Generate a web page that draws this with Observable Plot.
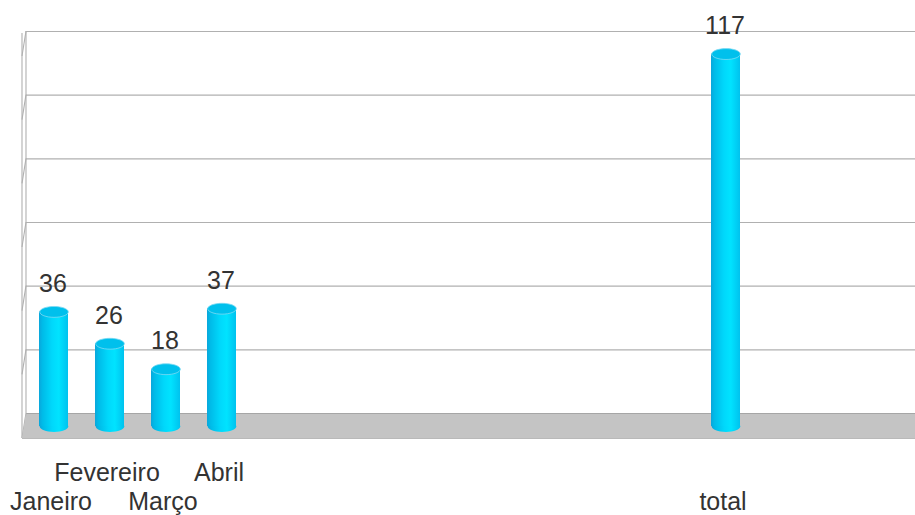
<!DOCTYPE html>
<html>
<head>
<meta charset="utf-8">
<script src="https://cdn.jsdelivr.net/npm/d3@7"></script>
<script src="https://cdn.jsdelivr.net/npm/@observablehq/plot@0.6"></script>
<style>
  html, body { margin: 0; padding: 0; background: #fff; }
  #chart svg { display: block; }
</style>
</head>
<body>
<div id="chart"></div>
<script>
// ---- data ----
const categories = ["Janeiro", "Fevereiro", "Março", "Abril", "", "", "", "", "", "", "", "", "total"];
const values = [36, 26, 18, 37, null, null, null, null, null, null, null, null, 117];
const gridValues = [20, 40, 60, 80, 100, 120];

const table = categories.map((c, i) => ({i, category: c, value: values[i]}));
const bars = table.filter(d => d.value != null);
const labelsTop = table.filter(d => d.i % 2 === 1 && d.category);
const labelsBottom = table.filter(d => d.i % 2 === 0 && d.category);

// depth offsets of the pseudo-3D box (back wall relative to bar plane)
const BACK_DY = -13, FRONT_DY = 12, DEPTH_DX = -4;

const ellipse = {
  draw(ctx, size) {
    const rx = Math.sqrt(size / Math.PI), ry = rx * 0.38, k = 0.5523;
    ctx.moveTo(rx, 0);
    ctx.bezierCurveTo(rx, ry * k, rx * k, ry, 0, ry);
    ctx.bezierCurveTo(-rx * k, ry, -rx, ry * k, -rx, 0);
    ctx.bezierCurveTo(-rx, -ry * k, -rx * k, -ry, 0, -ry);
    ctx.bezierCurveTo(rx * k, -ry, rx, -ry * k, rx, 0);
    ctx.closePath();
  }
};

const font = "'Liberation Sans', Arial, sans-serif";
const R = 14.3;
const FS = 25;

const plot = Plot.plot({
  width: 915,
  height: 515,
  marginLeft: 26,
  marginRight: -4,
  marginTop: 0,
  marginBottom: 0,
  style: {fontFamily: font, background: "#fff", overflow: "hidden"},
  x: {type: "band", domain: d3.range(categories.length), range: [10.65, 768.4], padding: 0.49, axis: null},
  y: {domain: [0, 120], range: [426, 44], axis: null},
  marks: [
    // floor
    Plot.ruleY([0], {stroke: "#c4c4c4", strokeWidth: 25, dy: -0.5}),
    Plot.ruleY([0], {stroke: "#a6a6a6", strokeWidth: 1.2, dy: BACK_DY}),
    Plot.ruleY([0], {stroke: "#b9b9b9", strokeWidth: 1.2, dy: FRONT_DY, dx: DEPTH_DX}),
    // back wall gridlines
    Plot.ruleY(gridValues, {stroke: "#b0b0b0", strokeWidth: 1.2, dy: BACK_DY}),
    // cylinders
    Plot.dot(bars, {x: "i", y: 0, r: R, symbol: ellipse, fill: "url(#cylGrad)", stroke: "none"}),
    Plot.barY(bars, {x: "i", y: "value", fill: "url(#cylGrad)"}),
    Plot.dot(bars, {x: "i", y: "value", r: R, symbol: ellipse, fill: "#00c0ec", stroke: "#7fd9f2", strokeWidth: 0.8}),
    // value labels
    Plot.text(bars, {x: "i", y: "value", text: d => String(d.value), dy: -28, dx: -1, fontSize: FS, fill: "#333"}),
    // category labels (two staggered rows)
    Plot.text(labelsTop, {x: "i", text: "category", frameAnchor: "bottom", lineAnchor: "middle", dy: -43, dx: -3, fontSize: FS, fill: "#333"}),
    Plot.text(labelsBottom, {x: "i", text: "category", frameAnchor: "bottom", lineAnchor: "middle", dy: -14, dx: -3, fontSize: FS, fill: "#333"})
  ]
});

// gradient for cylinders
const svg = d3.select(plot);
const defs = svg.insert("defs", ":first-child");
const g = defs.append("linearGradient").attr("id", "cylGrad").attr("x1", "0").attr("x2", "1").attr("y1", "0").attr("y2", "0");
[[0, "#0aa6db"], [0.12, "#00bbe8"], [0.45, "#00d8fb"], [0.68, "#00e3ff"], [1, "#00c2ee"]]
  .forEach(([o, c]) => g.append("stop").attr("offset", o).attr("stop-color", c));

// left side wall, placed with the plot's own y scale
const y = plot.scale("y");
const backX = 26, frontX = backX + DEPTH_DX;
const wall = svg.append("g").attr("stroke", "#b0b0b0").attr("stroke-width", 1.1).attr("fill", "none");
const topV = d3.max(gridValues);
wall.append("line").attr("x1", backX).attr("x2", backX)
  .attr("y1", y.apply(topV) + BACK_DY).attr("y2", y.apply(0) + BACK_DY);
wall.append("line").attr("x1", frontX).attr("x2", frontX)
  .attr("y1", y.apply(topV) + BACK_DY + 2).attr("y2", y.apply(0) + FRONT_DY);
[0, ...gridValues].forEach(v => {
  wall.append("line").attr("x1", backX).attr("y1", y.apply(v) + BACK_DY)
    .attr("x2", frontX).attr("y2", y.apply(v) + FRONT_DY);
});
// floor left slanted edge
svg.append("path").attr("fill", "#c4c4c4").attr("stroke", "none")
  .attr("d", `M${backX},${y.apply(0) + BACK_DY}L${frontX},${y.apply(0) + FRONT_DY}L${backX},${y.apply(0) + FRONT_DY}Z`);

document.getElementById("chart").appendChild(plot);
</script>
</body>
</html>
